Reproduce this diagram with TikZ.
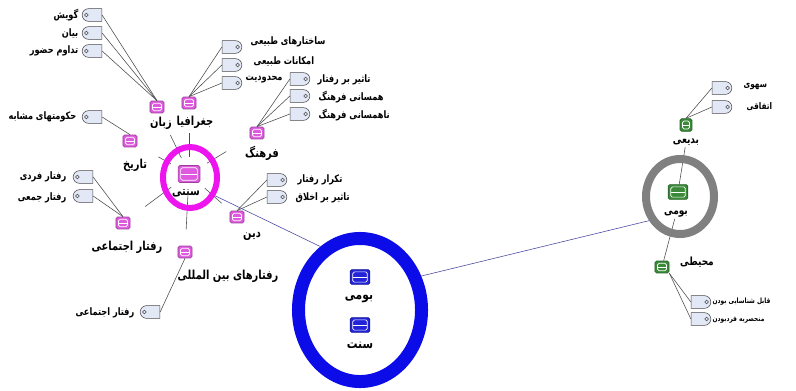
\documentclass[tikz,border=0pt]{standalone}
\usepackage{fontspec}
\usepackage{tikz}
\usetikzlibrary{shapes.geometric,shapes.misc}
\newfontfamily\farsi[Script=Arabic,FakeStretch=0.8]{DejaVu Sans}
\TeXXeTstate=1
\newcommand{\rtl}[1]{\beginR #1\endR}
\definecolor{magentaR}{RGB}{238,20,238}
\definecolor{magentaI}{RGB}{222,90,222}
\definecolor{blueR}{RGB}{12,12,232}
\definecolor{blueI}{RGB}{35,35,215}
\definecolor{grayR}{RGB}{128,128,128}
\definecolor{greenI}{RGB}{58,138,58}
\definecolor{tagfill}{RGB}{226,232,245}
\definecolor{khat}{RGB}{75,75,75}
\definecolor{peyvandrang}{RGB}{70,70,160}
\tikzset{
	halqe/.style={ellipse, draw=#1, inner sep=0pt},
	ikon/.style={rectangle, rounded corners=1.2pt, draw=#1!70!black, fill=#1, line width=0.5pt,
		minimum width=10pt, minimum height=8.5pt, inner sep=0pt,
		path picture={
			\draw[white, line width=0.5pt] ([shift={(1.8pt,1.6pt)}]path picture bounding box.south west) rectangle ([shift={(-1.8pt,-1.6pt)}]path picture bounding box.north east);
			\draw[white, line width=0.5pt] ([xshift=1.8pt]path picture bounding box.west) -- ([xshift=-1.8pt]path picture bounding box.east);}},
	barchasbR/.style={rounded rectangle, rounded rectangle west arc=none, draw=khat, fill=tagfill, line width=0.4pt,
		minimum width=14pt, minimum height=9pt, inner sep=0pt,
		path picture={\draw[khat, line width=0.4pt] ([xshift=-3pt]path picture bounding box.east) circle (1.3pt);}},
	barchasbL/.style={rounded rectangle, rounded rectangle east arc=none, draw=khat, fill=tagfill, line width=0.4pt,
		minimum width=14pt, minimum height=9pt, inner sep=0pt,
		path picture={\draw[khat, line width=0.4pt] ([xshift=3pt]path picture bounding box.west) circle (1.3pt);}},
	onvan/.style={font=\farsi\bfseries\fontsize{#1pt}{#1pt}\selectfont, inner sep=1pt},
	shakhe/.style={draw=khat, line width=0.4pt},
	peyvand/.style={draw=peyvandrang, line width=0.4pt},
}
\begin{document}
\begin{tikzpicture}[x=0.025cm,y=-0.025cm]
	\useasboundingbox (0,0) rectangle (796,390);
	\node[ikon=magentaI, minimum width=15.5pt, minimum height=12pt] (sonnati) at (189,174) {};
	\node[onvan=8.8] (sonnatiL) at (186,193) {\rtl{سنتی}};
	\node[ikon=magentaI] (zaban) at (157,107) {};
	\node[onvan=8.8] (zabanL) at (161,123) {\rtl{زبان}};
	\node[ikon=magentaI] (joghrafia) at (189,103) {};
	\node[onvan=8.8] (joghrafiaL) at (195,122) {\rtl{جغرافیا}};
	\node[ikon=magentaI] (farhang) at (257,133) {};
	\node[onvan=8.8] (farhangL) at (262,153) {\rtl{فرهنگ}};
	\node[ikon=magentaI] (tarikh) at (130,141) {};
	\node[onvan=8.8] (tarikhL) at (135,165) {\rtl{تاریخ}};
	\node[ikon=magentaI] (ejtemai) at (123,223) {};
	\node[onvan=8.8] (ejtemaiL) at (127,247) {\rtl{رفتار اجتماعی}};
	\node[ikon=magentaI] (beinolmelali) at (185,252) {};
	\node[onvan=8.8] (beinolmelaliL) at (228,276) {\rtl{رفتارهای بین المللی}};
	\node[ikon=magentaI] (din) at (237,217) {};
	\node[onvan=8.8] (dinL) at (252,236) {\rtl{دین}};

	\node[barchasbL] (guyesh) at (92,15) {};
	\node[onvan=7.3, anchor=east] (guyeshL) at (80,15) {\rtl{گویش}};
	\node[barchasbL] (bayan) at (92,33) {};
	\node[onvan=7.3, anchor=east] (bayanL) at (80,33) {\rtl{بیان}};
	\node[barchasbL] (tadavom) at (92,51) {};
	\node[onvan=7.3, anchor=east] (tadavomL) at (80,51) {\rtl{تداوم حضور}};
	\node[barchasbL] (hokumat) at (92,117) {};
	\node[onvan=7.3, anchor=east] (hokumatL) at (78,117) {\rtl{حکومتهای مشابه}};
	\node[barchasbL] (fardi) at (83,177) {};
	\node[onvan=7.3, anchor=east] (fardiL) at (68,177) {\rtl{رفتار فردی}};
	\node[barchasbL] (jamei) at (83,196) {};
	\node[onvan=7.3, anchor=east] (jameiL) at (68,198) {\rtl{رفتار جمعی}};
	\node[barchasbL] (ejtemaiT) at (150,312) {};
	\node[onvan=7.3, anchor=east] (ejtemaiTL) at (136,313) {\rtl{رفتار اجتماعی}};
	\node[barchasbR] (sakhtar) at (232,47) {};
	\node[onvan=7.3, anchor=west] (sakhtarL) at (249,42) {\rtl{ساختارهای طبیعی}};
	\node[barchasbR] (emkanat) at (232,65) {};
	\node[onvan=7.3, anchor=west] (emkanatL) at (252,61) {\rtl{امکانات طبیعی}};
	\node[barchasbR] (mahdudiat) at (232,83) {};
	\node[onvan=7.3, anchor=west] (mahdudiatL) at (244,80) {\rtl{محدودیت}};
	\node[barchasbR] (tasir) at (300,79) {};
	\node[onvan=7.3, anchor=west] (tasirL) at (316,80) {\rtl{تاثیر بر رفتار}};
	\node[barchasbR] (hamsani) at (300,96) {};
	\node[onvan=7.3, anchor=west] (hamsaniL) at (317,97) {\rtl{همسانی فرهنگ}};
	\node[barchasbR] (nahamsani) at (300,114) {};
	\node[onvan=7.3, anchor=west] (nahamsaniL) at (317,115) {\rtl{ناهمسانی فرهنگ}};
	\node[barchasbR] (tekrar) at (277,180) {};
	\node[onvan=7.3, anchor=west] (tekrarL) at (296,180) {\rtl{تکرار رفتار}};
	\node[barchasbR] (akhlagh) at (277,197) {};
	\node[onvan=7.3, anchor=west] (akhlaghL) at (294,198) {\rtl{تاثیر بر اخلاق}};

	\node[ikon=blueI, minimum width=14pt, minimum height=10.5pt] (bumi) at (360,277) {};
	\node[onvan=9.5] (bumiL) at (359,299) {\rtl{بومی}};
	\node[ikon=blueI, minimum width=14pt, minimum height=10.5pt] (sonnat) at (360,325) {};
	\node[onvan=9.5] (sonnatL) at (360,345) {\rtl{سنت}};

	\node[ikon=greenI, minimum width=14pt, minimum height=10.5pt] (boom) at (678,192) {};
	\node[onvan=8] (boomL) at (676,214) {\rtl{بومی}};
	\node[ikon=greenI, minimum width=8.5pt, minimum height=9pt] (badi) at (686,125) {};
	\node[onvan=8] (badiL) at (686,142) {\rtl{بدیعی}};
	\node[ikon=greenI] (mohit) at (662,267) {};
	\node[onvan=8] (mohitL) at (697,262) {\rtl{محیطی}};
	\node[barchasbR] (sahvi) at (722,88) {};
	\node[onvan=6.5, anchor=west] (sahviL) at (742,87) {\rtl{سهوی}};
	\node[barchasbR] (ettefaghi) at (722,107) {};
	\node[onvan=6.5, anchor=west] (ettefaghiL) at (745,107) {\rtl{اتفاقی}};
	\node[barchasbR] (shenasai) at (701,302) {};
	\node[onvan=5.2, anchor=west] (shenasaiL) at (711,302) {\rtl{قابل شناسایی بودن}};
	\node[barchasbR] (monhaser) at (701,319) {};
	\node[onvan=5.2, anchor=west] (monhaserL) at (711,320) {\rtl{منحصربه فردبودن}};

	\draw[shakhe] (guyesh.east) -- (zaban.north);
	\draw[shakhe] (bayan.east) -- (zaban.north);
	\draw[shakhe] (tadavom.east) -- (zaban.north);
	\draw[shakhe] (hokumat.east) -- (tarikh.north);
	\draw[shakhe] (fardi.east) -- (ejtemai.north);
	\draw[shakhe] (jamei.east) -- (ejtemai.north);
	\draw[shakhe] (ejtemaiT.east) -- (beinolmelali.south);
	\draw[shakhe] (sakhtar.west) -- (joghrafia.north);
	\draw[shakhe] (emkanat.west) -- (joghrafia.north);
	\draw[shakhe] (mahdudiat.west) -- (joghrafia.north);
	\draw[shakhe] (tasir.west) -- (farhang.north);
	\draw[shakhe] (hamsani.west) -- (farhang.north);
	\draw[shakhe] (nahamsani.west) -- (farhang.north);
	\draw[shakhe] (tekrar.west) -- (din.north);
	\draw[shakhe] (akhlagh.west) -- (din.north);
	\draw[shakhe] (sahvi.west) -- (badi.north);
	\draw[shakhe] (ettefaghi.west) -- (badi.north);
	\draw[shakhe] (mohit.south east) -- (shenasai.west);
	\draw[shakhe] (mohit.south east) -- (monhaser.west);

	\draw[shakhe, shorten <=0.2cm, shorten >=0.6cm] (sonnati) -- (zaban);
	\draw[shakhe, shorten <=0.2cm, shorten >=0.6cm] (sonnati) -- (joghrafia);
	\draw[shakhe, shorten <=0.2cm, shorten >=0.68cm] (sonnati) -- (farhang);
	\draw[shakhe, shorten <=0.2cm, shorten >=0.6cm] (sonnati) -- (tarikh);
	\draw[shakhe, shorten <=0.2cm, shorten >=0.46cm] (sonnati) -- (ejtemai);
	\draw[shakhe, shorten <=0.2cm, shorten >=0.4cm] (sonnati) -- (beinolmelali);
	\draw[shakhe, shorten <=0.2cm, shorten >=0.28cm] (sonnati) -- (din);
	\draw[shakhe] (badiL) -- (boom);
	\draw[shakhe] (boomL) -- (mohit);

	\node[halqe=magentaR, line width=0.15cm, minimum width=1.35cm, minimum height=1.525cm] (sonnatiH) at (190,177.5) {};
	\node[halqe=blueR, line width=0.325cm, minimum width=3.075cm, minimum height=3.575cm] (bumiH) at (360,310) {};
	\node[halqe=grayR, line width=0.2cm, minimum width=1.7cm, minimum height=1.875cm] (boomH) at (680,196.5) {};
	\draw[peyvand] (sonnatiH.-36) -- (bumiH.122);
	\draw[peyvand] (bumiH.29) -- (boomH.218);
\end{tikzpicture}
\end{document}
